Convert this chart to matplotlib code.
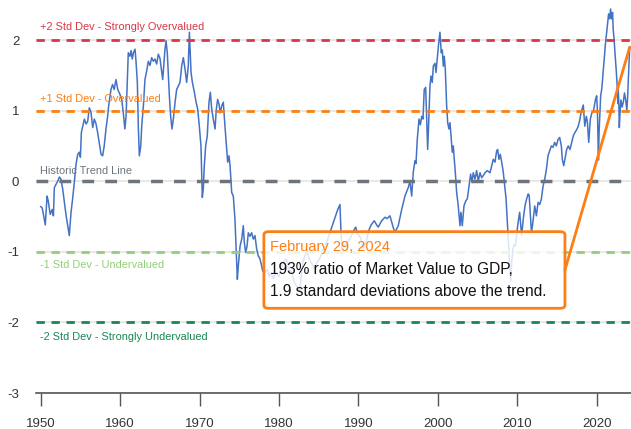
import numpy as np
import matplotlib
matplotlib.use("Agg")
import matplotlib.pyplot as plt
from matplotlib.patches import FancyBboxPatch

plt.rcParams['font.family'] = ['Liberation Sans', 'DejaVu Sans']
plt.rcParams['axes.unicode_minus'] = False

# Market value / GDP, deviation from trend (std devs)
years = [
    1950.0, 1950.2, 1950.58, 1950.8, 1950.95, 1951.2, 1951.45, 1951.6, 1951.72, 1951.95,
    1952.15, 1952.35, 1952.55, 1952.77, 1952.98, 1953.18, 1953.4, 1953.6, 1953.82, 1954.02,
    1954.23, 1954.45, 1954.66, 1954.86, 1955.0, 1955.12, 1955.3, 1955.5, 1955.72, 1955.92,
    1956.12, 1956.33, 1956.55, 1956.75, 1956.95, 1957.17, 1957.37, 1957.6, 1957.8, 1958.0,
    1958.22, 1958.43, 1958.56, 1958.72, 1958.85, 1959.05, 1959.25, 1959.48, 1959.7, 1959.98,
    1960.2, 1960.4, 1960.6, 1960.75, 1960.9, 1961.03, 1961.24, 1961.38, 1961.53, 1961.68,
    1961.88, 1962.0, 1962.17, 1962.3, 1962.42, 1962.6, 1962.72, 1962.93, 1963.13, 1963.34,
    1963.55, 1963.76, 1963.97, 1964.18, 1964.39, 1964.6, 1964.81, 1965.02, 1965.23, 1965.36,
    1965.52, 1965.65, 1965.78, 1965.94, 1966.06, 1966.2, 1966.36, 1966.53, 1966.7, 1966.91,
    1967.12, 1967.33, 1967.54, 1967.75, 1967.96, 1968.17, 1968.38, 1968.58, 1968.72, 1968.93,
    1969.1, 1969.35, 1969.56, 1969.77, 1969.97, 1970.18, 1970.35, 1970.47, 1970.6, 1970.77,
    1970.97, 1971.19, 1971.36, 1971.53, 1971.73, 1971.95, 1972.11, 1972.28, 1972.45, 1972.62,
    1972.78, 1972.99, 1973.2, 1973.42, 1973.54, 1973.71, 1973.84, 1974.05, 1974.25, 1974.46,
    1974.59, 1974.76, 1974.88, 1975.1, 1975.31, 1975.51, 1975.64, 1975.81, 1975.98, 1976.14,
    1976.35, 1976.56, 1976.77, 1976.98, 1977.19, 1977.4, 1977.61, 1977.82, 1977.95, 1978.2,
    1978.5, 1978.8, 1979.0, 1979.3, 1979.6, 1980.0, 1980.2, 1980.5, 1980.9, 1981.3,
    1981.6, 1982.0, 1982.3, 1982.6, 1982.8, 1983.0, 1983.3, 1983.5, 1983.8, 1984.2,
    1984.5, 1984.8, 1985.1, 1985.5, 1985.9, 1986.2, 1986.5, 1986.8, 1987.1, 1987.4,
    1987.68, 1987.8, 1987.95, 1988.3, 1988.7, 1989.0, 1989.3, 1989.66, 1989.9, 1990.3,
    1990.6, 1990.8, 1991.0, 1991.3, 1991.6, 1992.0, 1992.3, 1992.5, 1992.93, 1993.35,
    1993.6, 1993.97, 1994.15, 1994.39, 1994.6, 1994.8, 1995.02, 1995.45, 1995.86, 1996.28,
    1996.49, 1996.71, 1996.91, 1997.12, 1997.25, 1997.41, 1997.63, 1997.8, 1997.97, 1998.13,
    1998.29, 1998.47, 1998.6, 1998.72, 1998.85, 1999.01, 1999.14, 1999.3, 1999.43, 1999.64,
    1999.77, 1999.93, 2000.11, 2000.27, 2000.43, 2000.56, 2000.69, 2000.81, 2000.94, 2001.11,
    2001.24, 2001.4, 2001.53, 2001.69, 2001.82, 2001.95, 2002.07, 2002.2, 2002.37, 2002.57,
    2002.79, 2002.91, 2003.08, 2003.29, 2003.51, 2003.71, 2003.92, 2004.13, 2004.3, 2004.46,
    2004.68, 2004.89, 2005.09, 2005.31, 2005.52, 2005.72, 2005.94, 2006.23, 2006.57, 2006.98,
    2007.19, 2007.41, 2007.53, 2007.7, 2007.86, 2008.04, 2008.24, 2008.46, 2008.59, 2008.71,
    2008.87, 2009.0, 2009.17, 2009.3, 2009.45, 2009.6, 2009.75, 2009.9, 2010.1, 2010.3,
    2010.45, 2010.55, 2010.75, 2010.97, 2011.18, 2011.38, 2011.5, 2011.66, 2011.79, 2011.99,
    2012.2, 2012.41, 2012.62, 2012.83, 2013.04, 2013.25, 2013.46, 2013.67, 2013.87, 2014.08,
    2014.29, 2014.5, 2014.71, 2014.92, 2015.13, 2015.34, 2015.55, 2015.67, 2015.85, 2016.0,
    2016.22, 2016.42, 2016.64, 2016.85, 2017.05, 2017.26, 2017.48, 2017.68, 2017.9, 2018.02,
    2018.15, 2018.31, 2018.5, 2018.7, 2018.83, 2019.0, 2019.2, 2019.4, 2019.6, 2019.85,
    2020.0, 2020.1, 2020.22, 2020.3, 2020.42, 2020.5, 2020.63, 2020.74, 2020.82, 2020.95,
    2021.08, 2021.26, 2021.38, 2021.5, 2021.63, 2021.75, 2021.88, 2022.0, 2022.08, 2022.2,
    2022.3, 2022.45, 2022.58, 2022.66, 2022.72, 2022.8, 2022.85, 2022.95, 2023.05, 2023.2,
    2023.35, 2023.5, 2023.65, 2023.8, 2023.9, 2024.0, 2024.08, 2024.16,
]
values = [
    -0.36, -0.38, -0.62, -0.21, -0.28, -0.47, -0.40, -0.49, -0.09, -0.04,
    0.0, 0.06, 0.03, -0.11, -0.30, -0.47, -0.63, -0.77, -0.44, -0.25,
    -0.02, 0.24, 0.38, 0.41, 0.34, 0.69, 0.78, 0.88, 0.81, 0.85,
    1.04, 0.98, 0.76, 0.88, 0.82, 0.69, 0.55, 0.38, 0.36, 0.50,
    0.74, 0.92, 1.07, 1.20, 1.30, 1.37, 1.30, 1.44, 1.30, 1.23,
    1.16, 0.97, 0.74, 0.92, 1.40, 1.82, 1.77, 1.85, 1.73, 1.82,
    1.87, 1.70, 1.40, 0.74, 0.36, 0.50, 0.78, 1.07, 1.44, 1.56,
    1.70, 1.64, 1.75, 1.70, 1.73, 1.66, 1.80, 1.74, 1.56, 1.44,
    1.68, 1.87, 1.99, 1.82, 1.54, 1.21, 0.92, 0.74, 0.88, 1.11,
    1.30, 1.35, 1.40, 1.63, 1.75, 1.59, 1.40, 1.63, 2.11, 1.54,
    1.40, 1.26, 1.12, 1.02, 0.78, 0.50, -0.23, -0.11, 0.22, 0.50,
    0.64, 1.12, 1.26, 1.02, 0.88, 0.74, 1.02, 1.16, 1.09, 0.97,
    1.06, 1.12, 0.78, 0.45, 0.27, 0.36, 0.22, -0.16, -0.21, -0.54,
    -0.92, -1.39, -1.20, -0.92, -0.82, -0.63, -0.87, -1.01, -0.92, -0.73,
    -0.78, -0.73, -0.82, -0.77, -0.96, -1.06, -1.10, -1.20, -1.27, -1.30,
    -1.25, -1.35, -1.30, -1.38, -1.30, -1.35, -1.25, -1.15, -1.10, -1.25,
    -1.30, -1.45, -1.50, -1.55, -1.35, -1.15, -1.05, -0.98, -1.10, -1.18,
    -1.25, -1.15, -1.10, -1.00, -0.90, -0.80, -0.70, -0.60, -0.50, -0.40,
    -0.33, -0.70, -0.95, -0.90, -0.85, -0.80, -0.72, -0.65, -0.75, -0.80,
    -0.95, -0.90, -0.85, -0.70, -0.62, -0.56, -0.62, -0.65, -0.56, -0.51,
    -0.53, -0.49, -0.56, -0.66, -0.72, -0.68, -0.63, -0.40, -0.21, -0.09,
    0.0, -0.21, 0.13, 0.29, 0.25, 0.59, 0.88, 0.80, 0.92, 0.88,
    1.30, 1.33, 0.88, 0.45, 0.83, 1.35, 1.49, 1.40, 1.63, 1.67,
    1.54, 1.73, 1.96, 2.11, 1.82, 1.86, 1.63, 1.77, 1.59, 1.07,
    0.83, 0.74, 0.83, 0.59, 0.41, 0.50, 0.31, 0.13, -0.16, -0.35,
    -0.63, -0.44, -0.63, -0.35, -0.28, -0.25, -0.07, 0.10, -0.02, 0.12,
    0.03, 0.15, 0.0, 0.12, 0.05, 0.08, 0.12, 0.15, 0.12, 0.31,
    0.27, 0.43, 0.45, 0.31, 0.38, 0.27, 0.13, -0.11, -0.25, -0.49,
    -0.82, -1.10, -1.42, -1.15, -0.96, -0.90, -0.92, -0.77, -0.59, -0.44,
    -0.63, -0.77, -0.54, -0.35, -0.25, -0.18, -0.20, -0.49, -0.73, -0.56,
    -0.35, -0.49, -0.30, -0.33, -0.25, -0.07, 0.03, 0.17, 0.36, 0.43,
    0.50, 0.48, 0.55, 0.50, 0.59, 0.62, 0.50, 0.31, 0.22, 0.31,
    0.45, 0.50, 0.45, 0.55, 0.64, 0.69, 0.73, 0.78, 0.88, 0.97,
    1.02, 1.08, 0.78, 0.92, 0.84, 0.55, 0.88, 0.97, 1.00, 1.16,
    1.21, 0.97, 0.30, 0.69, 1.02, 1.21, 1.30, 1.44, 1.56, 1.73,
    1.92, 2.11, 2.25, 2.37, 2.30, 2.44, 2.30, 2.39, 2.15, 2.00,
    1.82, 1.59, 1.35, 1.10, 1.30, 1.05, 0.76, 1.00, 1.15, 1.05,
    1.12, 1.25, 1.15, 1.00, 1.20, 1.50, 1.70, 1.90,
]

band_levels = [2, 1, 0, -1, -2]
band_labels = [
    "+2 Std Dev - Strongly Overvalued",
    "+1 Std Dev - Overvalued",
    "Historic Trend Line",
    "-1 Std Dev - Undervalued",
    "-2 Std Dev - Strongly Undervalued",
]
band_colors = ["#dc3545", "#fd7e14", "#6c757d", "#93cf78", "#198754"]
label_offsets = [0.18, 0.16, 0.14, -0.19, -0.21]

x_ticks = [1950, 1960, 1970, 1980, 1990, 2000, 2010, 2020]
y_ticks = [-3, -2, -1, 0, 1, 2]

note_date = "February 29, 2024"
note_lines = ["193% ratio of Market Value to GDP,",
              "1.9 standard deviations above the trend."]

fig = plt.figure(figsize=(6.31, 4.29), dpi=100)
ax = fig.add_axes([36 / 631, 36 / 429, 595 / 631, 393 / 429])

ax.plot(years, values, color="#4472c4", lw=1.1, zorder=3)

# std dev bands
for lvl, lab, col, off in zip(band_levels, band_labels, band_colors, label_offsets):
    if lvl == 0:
        ax.axhline(lvl, color=col, lw=2.5, dashes=(3.4, 3.2), zorder=4)
    else:
        ax.axhline(lvl, color=col, lw=2.0, dashes=(3.0, 2.4), zorder=4)
    ax.text(1949.9, lvl + off, lab, color=col, fontsize=7.9, va="center", ha="left", zorder=5)

ax.set_xlim(1949.41, 2024.32)
ax.set_ylim(-3, 2.567)
ax.set_xticks(x_ticks)
ax.set_yticks(y_ticks)
ax.grid(axis="y", color="#e4e4e4", lw=1.2, zorder=0)
ax.set_axisbelow(True)

for s in ["top", "right", "left"]:
    ax.spines[s].set_visible(False)
ax.spines["bottom"].set_color("#555555")
ax.spines["bottom"].set_linewidth(1.2)
ax.tick_params(axis="x", length=9, width=1, color="#555555", labelsize=9.5,
               labelcolor="#333333", pad=9)
ax.tick_params(axis="y", length=0, labelsize=9.5, labelcolor="#333333", pad=12)

# callout box
box = FancyBboxPatch((0.383, 0.2155), 0.506, 0.195, transform=ax.transAxes,
                     boxstyle="round,pad=0,rounding_size=0.008",
                     facecolor=(1, 1, 1, 0.82), edgecolor="#fd7e14", lw=2, zorder=6)
ax.add_patch(box)
ax.text(0.393, 0.372, note_date, transform=ax.transAxes, color="#fd7e14",
        fontsize=10.5, va="center", ha="left", zorder=7)
ax.text(0.393, 0.313, note_lines[0], transform=ax.transAxes, color="#111111",
        fontsize=11.2, va="center", ha="left", zorder=7)
ax.text(0.393, 0.257, note_lines[1], transform=ax.transAxes, color="#111111",
        fontsize=11.2, va="center", ha="left", zorder=7)

ax.annotate("", xy=(years[-1], values[-1]), xycoords="data",
            xytext=(0.889, 0.313), textcoords="axes fraction",
            arrowprops=dict(arrowstyle="-", color="#fd7e14", lw=2,
                            shrinkA=0, shrinkB=0), zorder=6)

fig.savefig("out.png", dpi=100)
